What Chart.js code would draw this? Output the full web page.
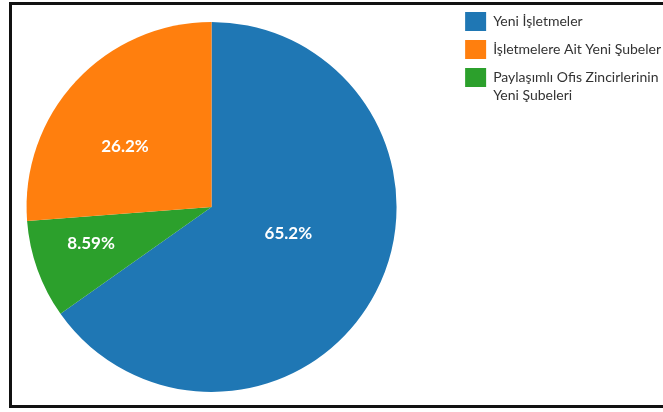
<!DOCTYPE html>
<html>
<head>
<meta charset="utf-8">
<script src="https://cdn.jsdelivr.net/npm/chart.js@4"></script>
<style>
html, body { margin: 0; padding: 0; background: #fff; overflow: hidden; width: 663px; height: 412px; }
#wrap { position: absolute; left: 0; top: 0; width: 663px; height: 412px; overflow: hidden; }
#frame { position: absolute; left: 9px; top: 2px; width: 720px; height: 406px; border: 3px solid #111; box-sizing: border-box; }
#c { position: absolute; left: -33px; top: 0; }
</style>
</head>
<body>
<div id="wrap"><div id="frame"></div><canvas id="c"></canvas></div>
<script>
// ---- data (legend order) ----
const categories = ['Yeni İşletmeler', 'İşletmelere Ait Yeni Şubeler', 'Paylaşımlı Ofis Zincirlerinin Yeni Şubeleri'];
const legendText = [['Yeni İşletmeler'], ['İşletmelere Ait Yeni Şubeler'], ['Paylaşımlı Ofis Zincirlerinin', 'Yeni Şubeleri']];
const values = [65.2, 26.2, 8.59];
const colors = ['#1f77b4', '#ff7f0e', '#2ca02c'];
// order of slices clockwise from 12 o'clock
const drawOrder = [0, 2, 1];

// ---- label placement styling ----
const labelAngleOffset = [-8, -8, 3];
const labelRadius = [0.44, 0.57, 0.68];

const legendFont = { family: 'Lato', size: 14, lineHeight: 1.3 };
const boxW = 21, boxH = 19, legPad = 9;
const chartAreaW = 489;

// measure legend width the same way Chart.js does
const mctx = document.createElement('canvas').getContext('2d');
mctx.font = legendFont.size + 'px ' + legendFont.family;
let maxItemW = 0;
legendText.forEach(t => {
  const longest = t.reduce((a, b) => a.length > b.length ? a : b);
  maxItemW = Math.max(maxItemW, boxW + legendFont.size / 2 + mctx.measureText(longest).width);
});
const legendW = legPad + maxItemW + 10;

const canvas = document.getElementById('c');
canvas.width = Math.ceil(chartAreaW + legendW);
canvas.height = 412;
canvas.style.width = canvas.width + 'px';
canvas.style.height = '412px';

const total = values.reduce((a, b) => a + b, 0);

const labelPlugin = {
  id: 'sliceLabels',
  afterDatasetsDraw(chart) {
    const meta = chart.getDatasetMeta(0);
    const ctx = chart.ctx;
    ctx.save();
    ctx.font = 'bold 17px Lato';
    ctx.fillStyle = '#ffffff';
    ctx.textAlign = 'center';
    ctx.textBaseline = 'middle';
    meta.data.forEach((arc, k) => {
      const ci = drawOrder[k];
      const p = arc.getProps(['x', 'y', 'startAngle', 'endAngle', 'outerRadius'], true);
      const a = (p.startAngle + p.endAngle) / 2 + labelAngleOffset[ci] * Math.PI / 180;
      const r = p.outerRadius * labelRadius[ci];
      const txt = (values[ci] / total * 100).toPrecision(3) + '%';
      ctx.fillText(txt, p.x + Math.cos(a) * r, p.y + Math.sin(a) * r);
    });
    ctx.restore();
  }
};

new Chart(canvas, {
  type: 'pie',
  data: {
    labels: drawOrder.map(i => categories[i]),
    datasets: [{
      data: drawOrder.map(i => values[i]),
      backgroundColor: drawOrder.map(i => colors[i]),
      borderWidth: 0,
      radius: 185
    }]
  },
  options: {
    responsive: false,
    animation: false,
    events: [],
    layout: { padding: { top: 3, bottom: 1, left: 0, right: 0 } },
    plugins: {
      tooltip: { enabled: false },
      legend: {
        position: 'right',
        align: 'start',
        labels: {
          boxWidth: boxW,
          boxHeight: boxH,
          padding: legPad,
          color: '#333',
          font: legendFont,
          generateLabels(chart) {
            const items = Chart.overrides.doughnut.plugins.legend.labels.generateLabels(chart);
            items.forEach(it => {
              const t = legendText[drawOrder[it.index]];
              it.text = t.length > 1 ? t : t[0];
              it.lineWidth = 0;
            });
            return items;
          },
          sort: (a, b) => drawOrder[a.index] - drawOrder[b.index]
        }
      }
    }
  },
  plugins: [labelPlugin]
});
</script>
</body>
</html>
